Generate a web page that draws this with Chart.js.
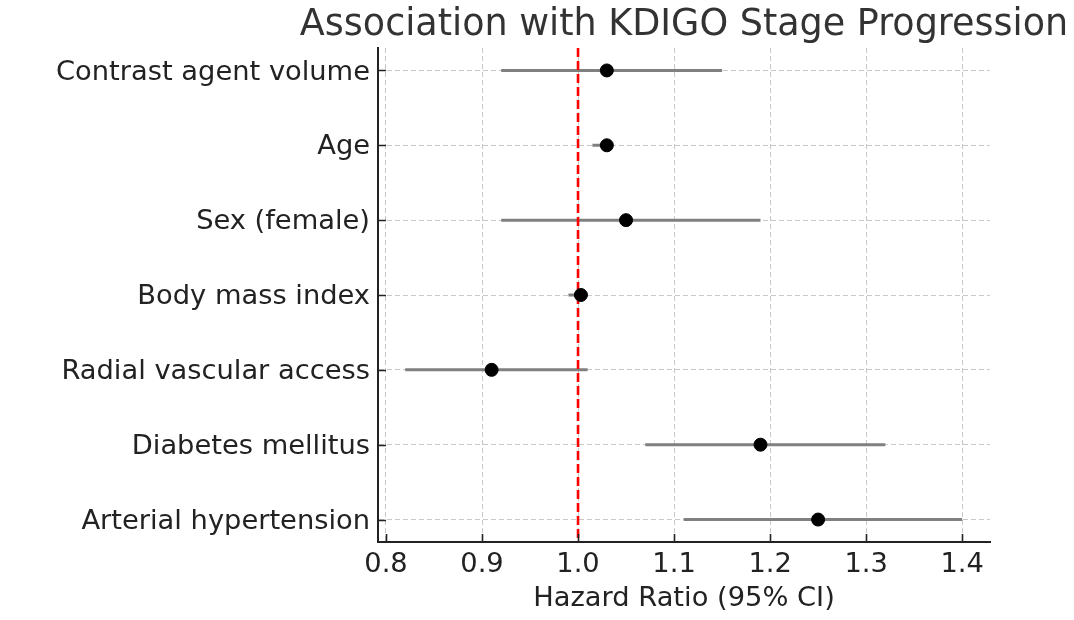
<!DOCTYPE html>
<html>
<head>
<meta charset="utf-8">
<script src="https://cdn.jsdelivr.net/npm/chart.js@4.4.1/dist/chart.umd.min.js"></script>
<style>
	html, body { margin: 0; padding: 0; background: #fff; }
	#wrap { width: 1074px; height: 620px; }
</style>
</head>
<body>
<div id="wrap"><canvas id="forest" width="1074" height="620"></canvas></div>
<script>
	// ── Data ────────────────────────────────────────────────────────────────
	var factors     = ['Contrast agent volume', 'Age', 'Sex (female)', 'Body mass index', 'Radial vascular access', 'Diabetes mellitus', 'Arterial hypertension'];
	var hazardRatio = [1.03, 1.03, 1.05, 1.003, 0.91, 1.19, 1.25];
	var ciLower     = [0.92, 1.015, 0.92, 0.99, 0.82, 1.07, 1.11];
	var ciUpper     = [1.15, 1.035, 1.19, 1.01, 1.01, 1.32, 1.40];
	var xTicks      = [0.8, 0.9, 1.0, 1.1, 1.2, 1.3, 1.4];
	var refValue    = 1.0;

	var FONT = 'DejaVu Sans';
	var TEXT = '#222222';
	var LABEL_SIZE = 27.3;
	Chart.defaults.font.family = FONT;

	// CI segments, separated by gaps so each row is its own line.
	var ciData = [];
	factors.forEach(function (f, i) {
		ciData.push({ x: ciLower[i], y: i });
		ciData.push({ x: ciUpper[i], y: i });
		ciData.push({ x: null, y: null });
	});

	var pointData = hazardRatio.map(function (v, i) { return { x: v, y: i }; });

	// Title centred over the plot area (Chart.js title centres on the canvas).
	var titlePlugin = {
		id: 'plotTitle',
		afterDraw: function (chart) {
			var ctx = chart.ctx, a = chart.chartArea;
			ctx.save();
			ctx.font = '36.5px "' + FONT + '"';
			ctx.fillStyle = '#333333';
			ctx.textAlign = 'center';
			ctx.textBaseline = 'alphabetic';
			ctx.fillText('Association with KDIGO Stage Progression', (a.left + a.right) / 2, 35);
			ctx.restore();
		}
	};

	// Inward tick marks.
	var tickPlugin = {
		id: 'inTicks',
		afterDraw: function (chart) {
			var ctx = chart.ctx, a = chart.chartArea;
			var xs = chart.scales.x, ys = chart.scales.y;
			ctx.save();
			ctx.strokeStyle = TEXT;
			ctx.lineWidth = 1.6;
			ctx.beginPath();
			xs.ticks.forEach(function (t) {
				var px = Math.round(xs.getPixelForValue(t.value)) + 0.5;
				ctx.moveTo(px, a.bottom);
				ctx.lineTo(px, a.bottom - 8);
			});
			ys.ticks.forEach(function (t) {
				var py = Math.round(ys.getPixelForValue(t.value)) + 0.5;
				ctx.moveTo(a.left, py);
				ctx.lineTo(a.left + 8, py);
			});
			ctx.stroke();
			ctx.restore();
		}
	};

	new Chart(document.getElementById('forest'), {
		type: 'scatter',
		data: {
			datasets: [
				{
					label: 'CI',
					data: ciData,
					showLine: true,
					spanGaps: false,
					borderColor: '#808080',
					borderWidth: 3,
					pointRadius: 0,
					order: 3
				},
				{
					label: 'ref',
					data: [{ x: refValue, y: -0.3 }, { x: refValue, y: 6.3 }],
					showLine: true,
					borderColor: '#ff0000',
					borderWidth: 2.6,
					borderDash: [9, 4],
					pointRadius: 0,
					order: 2
				},
				{
					label: 'HR',
					data: pointData,
					backgroundColor: '#000000',
					borderColor: '#000000',
					pointRadius: 6.5,
					order: 1
				}
			]
		},
		options: {
			responsive: false,
			animation: false,
			devicePixelRatio: 1,
			layout: { padding: { top: 48, right: 84, left: 0, bottom: 0 } },
			plugins: {
				legend: { display: false },
				tooltip: { enabled: false },
				title: { display: false }
			},
			scales: {
				x: {
					type: 'linear',
					min: 0.7917,
					max: 1.429,
					afterBuildTicks: function (s) {
						s.ticks = xTicks.map(function (v) { return { value: v }; });
					},
					afterFit: function (s) { s.height = 78; },
					ticks: {
						callback: function (v) { return Number(v).toFixed(1); },
						font: { size: LABEL_SIZE },
						color: TEXT,
						padding: 7,
						maxRotation: 0
					},
					grid: { color: '#c8c8c8', lineWidth: 1, drawTicks: false },
					border: { display: true, color: TEXT, width: 2, dash: [5, 3] },
					title: {
						display: true,
						text: 'Hazard Ratio (95% CI)',
						font: { size: LABEL_SIZE },
						color: TEXT,
						padding: { top: 0, bottom: 5 }
					}
				},
				y: {
					type: 'linear',
					reverse: true,
					min: -0.3,
					max: 6.3,
					afterBuildTicks: function (s) {
						s.ticks = factors.map(function (f, i) { return { value: i }; });
					},
					afterFit: function (s) { s.width = 378; },
					ticks: {
						callback: function (v) { return factors[v]; },
						font: { size: LABEL_SIZE },
						color: TEXT,
						padding: 8,
						labelOffset: 2
					},
					grid: { color: '#c8c8c8', lineWidth: 1, drawTicks: false },
					border: { display: true, color: TEXT, width: 2, dash: [5, 3] }
				}
			}
		},
		plugins: [titlePlugin, tickPlugin]
	});
</script>
</body>
</html>
